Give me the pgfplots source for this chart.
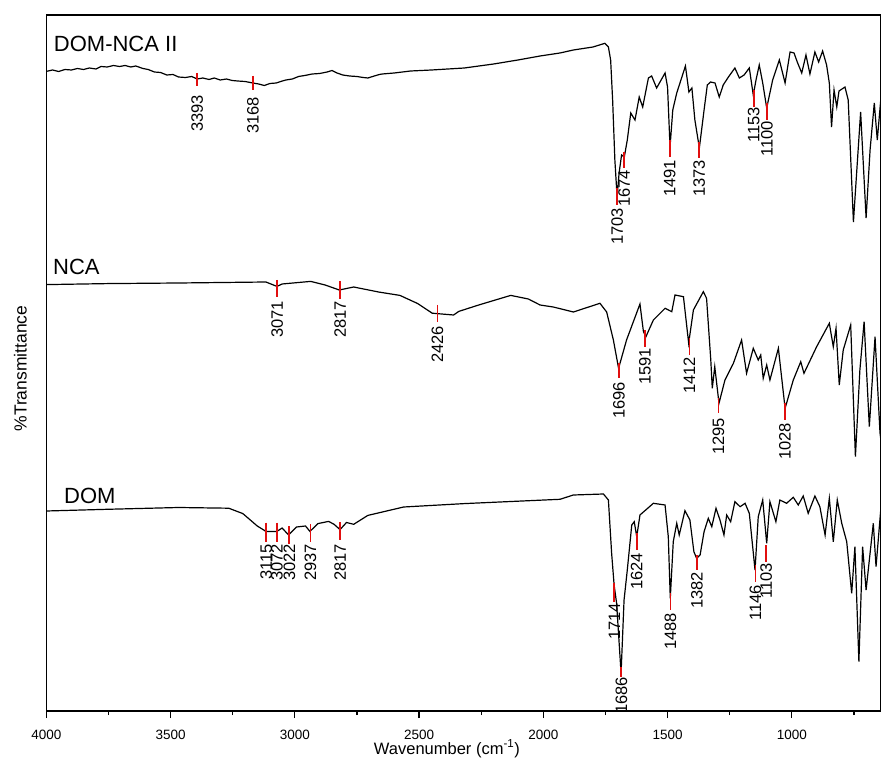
\documentclass[border=0pt]{standalone}
\usepackage{fontspec}
\setmainfont{Liberation Sans}
\usepackage{pgfplots}
\pgfplotsset{compat=1.18}
\newcommand\pk{\fontsize{16.5}{18}\selectfont}
\newcommand\nm{\fontsize{22}{24}\selectfont}
\definecolor{pkred}{RGB}{225,15,15}
\begin{document}
\begin{tikzpicture}
\begin{axis}[name=ax, scale only axis, width=834.7pt, height=696pt,
  set layers,
  x dir=reverse, xmin=641, xmax=4000, ymin=0, ymax=696,
  xtick={1000,1500,...,4000}, minor xtick={750,1250,...,3750}, ytick=\empty,
  xtick pos=lower, tick align=outside, major tick length=7pt, minor tick length=4pt,
  tick style={black, line width=1.2pt},
  axis line style={line width=1.4pt},
  /pgf/number format/assume math mode=true,
  /pgf/number format/1000 sep={},
  xticklabel style={font=\fontsize{13.5}{15}\selectfont, anchor=center, yshift=-17pt},
  clip=false]
% DOM-NCA II
\addplot[black, line width=1.2pt] coordinates {
(4000,639.6)(3975,641)(3950,639.5)(3925,641.5)(3899,641)(3875,642.5)(3850,641.5)(3827,643)
(3800,642)(3780,644.5)(3755,644)(3730,645.5)(3705,644.5)(3683,645.5)(3660,644)(3640,645)
(3611,642.5)(3590,641.5)(3565,639)(3540,638.5)(3515,636)(3490,636.5)(3468,634)(3440,633.5)
(3415,634.5)(3393,632)(3370,633)(3345,631.5)(3324,633)(3300,631)(3275,632)(3252,630.5)
(3230,630)(3200,629.5)(3169,628)(3145,627)(3123,625.5)(3100,627.5)(3075,628)(3050,630)
(3036,631)(3010,632)(2985,634.5)(2960,635.5)(2930,637)(2900,637.5)(2870,639)(2850,640.5)
(2830,638)(2807,636)(2780,635)(2750,634.5)(2725,633.5)(2706,633)(2680,635)(2660,636.5)
(2648,637)(2600,638)(2534,640)(2450,641)(2318,643)(2200,647)(2102,651)(2013,655)(1933,658)
(1879,661)(1800,664)(1752,667.7)(1738,664)(1729,651)(1721,611)(1712,551)(1703,514)(1695,538)
(1685,556)(1674,554)(1662,571)(1648,598)(1631,591)(1614,614)(1600,604)(1577,633)(1564,635)
(1544,623)(1510,638)(1500,624)(1490,564)(1479,601)(1463,618)(1428,645)(1414,619)(1402,623)
(1390,591)(1372,563)(1353,601)(1340,626)(1327,629)(1309,628)(1292,614)(1276,626)(1255,634)
(1229,643)(1211,633)(1192,636)(1171,643)(1155,616)(1144,631)(1131,646)(1117,628)(1101,603)
(1077,631)(1050,651)(1027,628)(1007,659)(991,658)(978,649)(960,638)(943,656)(927,637)
(907,659)(892,649)(876,660)(860,646)(849,628)(840,584)(830,621)(819,604)(810,620)(786,624)
(773,611)(752,489)(723,599)(701,493)(685,561)(668,608)(656,571)(641,614)
};
% NCA
\addplot[black, line width=1.2pt] coordinates {
(4000,426.4)(3755,427.4)(3468,428)(3116,429)(3072,424.6)(3051,427)(2936,429.6)(2878,426)
(2821,421)(2763,424)(2663,419)(2577,415.6)(2505,407.4)(2447,397.8)(2361,396)(2340,399.6)
(2260,406)(2131,415.6)(2060,412)(2013,406)(1960,404)(1879,399)(1772,407.7)(1745,399)
(1718,371)(1697,342.7)(1665,371)(1611,407)(1597,379.3)(1587,374.3)(1557,391)(1510,402.7)
(1483,399.3)(1470,416)(1436,414.3)(1415,367.7)(1396,401)(1356,419.3)(1343,412.7)(1326,351)
(1320,322.7)(1310,344.3)(1293,307.7)(1269,331)(1235,347.7)(1202,371)(1182,337.7)(1155,362.7)
(1135,351)(1125,356)(1115,332.7)(1101,346)(1088,331)(1054,362.7)(1027,302.7)(994,331)
(964,349.3)(951,337.7)(900,364.3)(849,387.7)(833,364.3)(822,382.7)(809,326)(793,361)
(763,386)(744,254.3)(726,341)(709,389.3)(688,284.3)(665,374.3)(645,278)(641,270)
};
% DOM
\addplot[black, line width=1.2pt] coordinates {
(4000,200)(3755,201.7)(3468,203.5)(3266,202.8)(3209,197.4)(3151,185)(3116,179.6)(3072,179.6)
(3051,183)(3025,176)(2993,184)(2957,185)(2939,179.6)(2907,187.4)(2864,189.6)(2842,186.7)
(2818,181.4)(2792,188.5)(2763,186.7)(2706,195.6)(2562,204)(2318,207.4)(1933,211.7)
(1879,216)(1758,217)(1738,211)(1725,157.7)(1715,126)(1705,107.7)(1687,37.7)(1675,111)
(1662,141)(1644,186)(1634,189.3)(1624,174.3)(1611,196)(1557,207.7)(1510,206)(1497,174.3)
(1489,112.7)(1477,169.3)(1463,187.7)(1453,176)(1430,200.3)(1410,191)(1394,159.3)(1383,152.7)
(1369,156)(1353,179.3)(1336,192.7)(1322,184.3)(1305,202.7)(1289,191)(1273,176)(1262,196)
(1246,189.3)(1229,209.3)(1208,204.3)(1188,207.7)(1171,197.7)(1148,141)(1135,194.3)(1117,211)
(1101,167.7)(1088,209.3)(1064,189.3)(1048,211)(1021,207.7)(994,213.7)(974,206)(954,215)
(934,197.7)(907,215)(887,204.3)(866,176)(849,212.7)(833,169.3)(817,211)(799,187.7)(779,169.3)
(759,117.7)(746,164.3)(730,49.3)(715,164.3)(701,121)(672,187.7)(661,144.3)(641,204.3)
};
% peak markers
\begin{pgfonlayer}{axis foreground}
\foreach \w/\a/\b in {3393/638/625,3168/635/621,1703/523/506,1674/559/543,1491/571/554,1373/569/553,1153/621/604,1100/608/591,
  3071/431/414,2817/430/412,2426/406/389,1696/348/333,1591/381/364,1412/373/356,1295/313/298,1028/308/291,
  3115/188.5/169,3072/188.5/169,3022/185/167,2937/187/169,2817/189/171,1714/128/109,1686/44/34,1624/178/161,1488/118/101,1382/156/141,1146/146/129,1103/166/149}{
  \edef\tmp{\noexpand\draw[draw=pkred, line width=1.8pt] (axis cs:\w,\a) -- (axis cs:\w,\b);}\tmp
}
\end{pgfonlayer}
\foreach \w/\t in {3393/616,3168/614,1703/503,1674/541,1491/551,1373/551,1153/604,1100/590,
  3071/410,2817/410,2426/385,1696/329,1591/363,1412/354,1295/293,1028/288,
  3115/167,3072/167,3022/167,2937/167,1714/108,1686/34,1624/158,1488/98,1382/139,1146/126,1103/148}{
  \edef\tmp{\noexpand\node[rotate=90, anchor=east, inner sep=0pt, font=\noexpand\pk] at (axis cs:\w,\t) {\w};}\tmp
}
\node[rotate=90, anchor=east, inner sep=0pt, font=\pk] at (axis cs:2817,167) {2817};
% sample names
\node[anchor=base west, inner sep=0pt, font=\nm] at (axis cs:3970,659) {DOM-NCA II};
\node[anchor=base west, inner sep=0pt, font=\nm] at (axis cs:3973,436) {NCA};
\node[anchor=base west, inner sep=0pt, font=\nm] at (axis cs:3929,208) {DOM};
% axis labels
\node[anchor=base, inner sep=0pt, font=\fontsize{16.5}{18}\selectfont] at (axis cs:2388,-43) {Wavenumber (cm\textsuperscript{-1})};
\node[rotate=90, anchor=center, inner sep=0pt, font=\fontsize{17.5}{19}\selectfont] at (axis cs:4104,342.4) {\%Transmittance};
\end{axis}
\pgfresetboundingbox
\path[use as bounding box] ([shift={(-46.3pt,-53pt)}]ax.south west) rectangle ([shift={(0pt,15pt)}]ax.north east);
\end{tikzpicture}
\end{document}
